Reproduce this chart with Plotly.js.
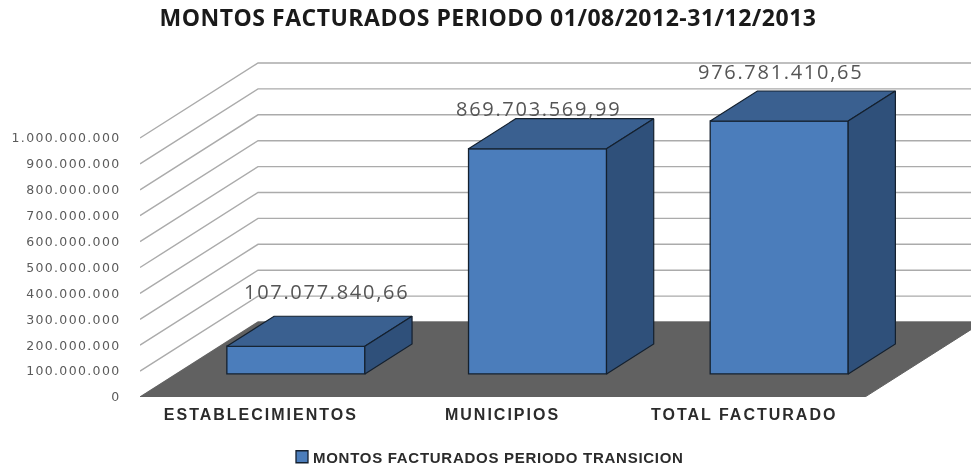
<!DOCTYPE html>
<html>
<head>
<meta charset="utf-8">
<script src="https://cdn.plot.ly/plotly-3.0.1.min.js"></script>
<style>
html,body{margin:0;padding:0;background:#fff;}
#chart{width:971px;height:465px;filter:blur(0.55px);}
.ytick text{letter-spacing:1.35px;}
.xtick text{letter-spacing:2px;}
.legendtext{letter-spacing:0.72px;transform:translateX(-9px);}
.annotation-text{letter-spacing:1.7px;}
.gtitle{letter-spacing:0.5px;}
path.legendbar{transform:translate(20px,0) scale(.85);}
</style>
</head>
<body>
<div id="chart"></div>
<script>
var categories = ['ESTABLECIMIENTOS', 'MUNICIPIOS', 'TOTAL FACTURADO'];
var montos = [107077840.66, 869703569.99, 976781410.65];
var montoLabels = ['107.077.840,66', '869.703.569,99', '976.781.410,65'];
var seriesName = 'MONTOS FACTURADOS PERIODO TRANSICION';
var tickValues = [0, 100000000, 200000000, 300000000, 400000000, 500000000, 600000000, 700000000, 800000000, 900000000, 1000000000];
var tickLabels = ['0', '100.000.000', '200.000.000', '300.000.000', '400.000.000', '500.000.000', '600.000.000', '700.000.000', '800.000.000', '900.000.000', '1.000.000.000'];

// oblique projection of the chart's depth axis onto the plane
var DEPTH_X = 0.4883, DEPTH_Y = 289.6e6;
var BAR_NEAR = 0.307, BAR_FAR = 0.707, BAR_W = 0.571, BAR_SHIFT = -0.005;
var X_MIN = -0.5, X_MAX = 2.9386, Y_MAX = 1.3398e9;
// hand placed data labels in the original chart (pixels)
var labelShiftX = [29, 0, 0], labelShiftY = [55, 40, 49];

var COL_FRONT = '#4b7dbb', COL_TOP = '#3a6090', COL_SIDE = '#2f507a', COL_EDGE = '#14202e', COL_FLOOR = '#616161', COL_GRID = '#ababab';

function project(i, v, d) { return [i + d * DEPTH_X, v + d * DEPTH_Y]; }
function pathOf(pts, close) {
  return pts.map(function (p, k) { return (k ? 'L' : 'M') + p[0] + ',' + p[1]; }).join(' ') + (close ? ' Z' : '');
}

var shapes = [];
tickValues.forEach(function (v) {
  var a = project(X_MIN, v, 0), b = project(X_MIN, v, 1);
  shapes.push({type: 'path', xref: 'x', yref: 'y', layer: 'below', path: pathOf([a, b, [X_MAX, b[1]]]),
    line: {color: COL_GRID, width: 1.4}});
});
shapes.push({type: 'path', xref: 'x', yref: 'y', layer: 'below',
  path: pathOf([project(-0.5, 0, 0), project(2.5, 0, 0), project(2.5, 0, 1), project(-0.5, 0, 1)], true),
  fillcolor: COL_FLOOR, line: {color: COL_FLOOR, width: 1}});

var traces = [{
  type: 'bar', name: seriesName, showlegend: true,
  x: categories.map(function (c, i) { return i + BAR_SHIFT + BAR_NEAR * DEPTH_X; }),
  y: montos, base: montos.map(function () { return BAR_NEAR * DEPTH_Y; }),
  width: BAR_W, marker: {color: COL_FRONT, line: {color: COL_EDGE, width: 1.3}}
}];

montos.forEach(function (v, i) {
  var hw = BAR_W / 2, c = i + BAR_SHIFT;
  var fl = project(c - hw, v, BAR_NEAR), fr = project(c + hw, v, BAR_NEAR);
  var bl = project(c - hw, v, BAR_FAR), br = project(c + hw, v, BAR_FAR);
  var gf = project(c + hw, 0, BAR_NEAR), gb = project(c + hw, 0, BAR_FAR);
  [[[fl, bl, br, fr, fl], COL_TOP], [[fr, br, gb, gf, fr], COL_SIDE]].forEach(function (f) {
    traces.push({type: 'scatter', mode: 'lines', fill: 'toself', showlegend: false, hoverinfo: 'skip',
      x: f[0].map(function (p) { return p[0]; }), y: f[0].map(function (p) { return p[1]; }),
      fillcolor: f[1], line: {color: COL_EDGE, width: 1.2}});
  });
});

var annotations = montos.map(function (v, i) {
  var p = project(i, v, BAR_NEAR);
  return {x: p[0], y: p[1], xref: 'x', yref: 'y', text: montoLabels[i], showarrow: false,
    xshift: labelShiftX[i], yshift: labelShiftY[i],
    font: {family: 'Open Sans, sans-serif', size: 20, color: '#555555'}};
});

var layout = {
  width: 971, height: 465,
  margin: {l: 140, r: 0, t: 50, b: 68},
  paper_bgcolor: '#fff', plot_bgcolor: 'rgba(0,0,0,0)',
  hovermode: false, showlegend: true,
  title: {text: 'MONTOS FACTURADOS PERIODO 01/08/2012-31/12/2013', x: 488 / 971, xanchor: 'center', xref: 'container',
    y: 447 / 465, yanchor: 'middle', yref: 'container',
    font: {family: 'Open Sans, sans-serif', size: 23, weight: 700, color: '#1a1a1a'}},
  xaxis: {type: 'linear', range: [X_MIN, X_MAX], tickmode: 'array', tickvals: [0, 1, 2], ticktext: categories,
    showgrid: false, zeroline: false, showline: false, ticks: 'outside', ticklen: 3, tickcolor: 'rgba(0,0,0,0)',
    tickfont: {family: 'Liberation Sans, sans-serif', size: 16, weight: 700, color: '#2b2b2b'}},
  yaxis: {range: [0, Y_MAX], tickmode: 'array', tickvals: tickValues, ticktext: tickLabels,
    showgrid: false, zeroline: false, showline: false, ticks: 'outside', ticklen: 16, tickcolor: 'rgba(0,0,0,0)',
    tickfont: {family: 'DejaVu Sans, sans-serif', size: 12.5, color: '#5a5a5a'}},
  legend: {orientation: 'h', xref: 'container', yref: 'container', x: 282 / 971, xanchor: 'left', y: 8 / 465, yanchor: 'middle',
    font: {family: 'Liberation Sans, sans-serif', size: 15, weight: 700, color: '#2b2b2b'}, itemclick: false, itemdoubleclick: false},
  shapes: shapes, annotations: annotations
};

Plotly.newPlot('chart', traces, layout, {displayModeBar: false, staticPlot: true});
</script>
</body>
</html>
